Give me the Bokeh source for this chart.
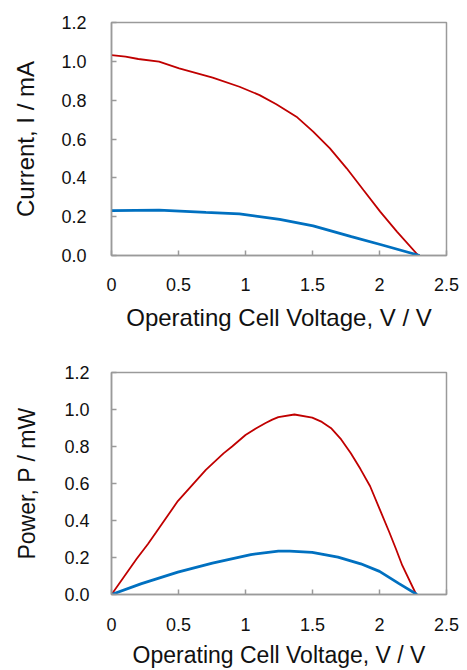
from bokeh.plotting import figure
from bokeh.layouts import column
from bokeh.models import Range1d, FixedTicker
from bokeh.embed import file_html
from bokeh.resources import INLINE

# ---- data ----
iv_red_v = [0, 0.105, 0.2, 0.355, 0.505, 0.755, 0.955, 1.105, 1.23, 1.38, 1.505, 1.63, 1.755, 1.88, 2.005, 2.13, 2.29]
iv_red_i = [1.032, 1.024, 1.012, 0.998, 0.964, 0.916, 0.869, 0.826, 0.779, 0.715, 0.638, 0.552, 0.449, 0.337, 0.226, 0.123, 0.0]
iv_blue_v = [0, 0.355, 0.705, 0.955, 1.255, 1.505, 1.79, 2.02, 2.3]
iv_blue_i = [0.231, 0.234, 0.222, 0.214, 0.186, 0.153, 0.097, 0.054, 0.0]

pv_red_v = [0, 0.188, 0.272, 0.332, 0.495, 0.704, 0.836, 0.9, 1.0, 1.077, 1.15, 1.2, 1.245, 1.365, 1.498, 1.57, 1.642, 1.714, 1.786, 1.858, 1.93, 2.002, 2.074, 2.123, 2.17, 2.274]
pv_red_p = [0, 0.193, 0.273, 0.335, 0.505, 0.674, 0.763, 0.80, 0.862, 0.897, 0.927, 0.945, 0.959, 0.973, 0.956, 0.933, 0.897, 0.838, 0.763, 0.678, 0.585, 0.46, 0.335, 0.246, 0.157, 0.0]
pv_blue_v = [0, 0.224, 0.495, 0.753, 1.04, 1.245, 1.33, 1.498, 1.69, 1.86, 2.0, 2.146, 2.28]
pv_blue_p = [0, 0.059, 0.121, 0.170, 0.216, 0.234, 0.235, 0.228, 0.202, 0.166, 0.125, 0.059, 0.0]

x_ticks = [0, 0.5, 1, 1.5, 2, 2.5]
x_tick_labels = ["0", "0.5", "1", "1.5", "2", "2.5"]
y_ticks = [0, 0.2, 0.4, 0.6, 0.8, 1.0, 1.2]
y_tick_labels = ["0.0", "0.2", "0.4", "0.6", "0.8", "1.0", "1.2"]

x_label = "Operating Cell Voltage, V / V"
y_label_top = "Current, I / mA"
y_label_bottom = "Power, P / mW"

RED = "#c00000"
BLUE = "#0070c0"
GREY = "#9a9a9a"
FONT = "Liberation Sans"


def style(p, ylab, label_size, ylab_standoff, ytick_standoff, xtick_standoff, xlab_standoff):
    p.x_range = Range1d(0, 2.5)
    p.y_range = Range1d(0, 1.2)
    p.xgrid.visible = False
    p.ygrid.visible = False
    p.outline_line_color = GREY
    p.outline_line_width = 1.5
    p.background_fill_color = "white"
    p.border_fill_color = "white"
    for ax in (p.xaxis[0], p.yaxis[0]):
        ax.axis_line_color = GREY
        ax.axis_line_width = 1.5
        ax.major_tick_line_color = GREY
        ax.major_tick_line_width = 1.5
        ax.major_tick_in = 5
        ax.major_tick_out = 0
        ax.minor_tick_line_color = None
        ax.major_label_text_font = FONT
        ax.major_label_text_font_size = "18px"
        ax.major_label_text_color = "#111111"
        ax.axis_label_text_font = FONT
        ax.axis_label_text_font_size = label_size
        ax.axis_label_text_font_style = "normal"
        ax.axis_label_text_color = "#111111"
    p.xaxis[0].ticker = FixedTicker(ticks=x_ticks)
    p.xaxis[0].major_label_overrides = dict(zip(x_ticks, x_tick_labels))
    p.yaxis[0].ticker = FixedTicker(ticks=y_ticks)
    p.yaxis[0].major_label_overrides = dict(zip(y_ticks, y_tick_labels))
    p.xaxis[0].axis_label = x_label
    p.yaxis[0].axis_label = ylab
    p.yaxis[0].major_label_standoff = ytick_standoff
    p.yaxis[0].axis_label_standoff = ylab_standoff
    p.xaxis[0].major_label_standoff = xtick_standoff
    p.xaxis[0].axis_label_standoff = xlab_standoff


top = figure(width=467, height=335, output_backend="svg", toolbar_location=None,
             min_border_left=111, min_border_right=21, min_border_top=22, min_border_bottom=80)
style(top, y_label_top, "24px", 19, 25, 22, 10)
top.line(iv_red_v, iv_red_i, line_color=RED, line_width=1.8)
top.line(iv_blue_v, iv_blue_i, line_color=BLUE, line_width=2.8)

bottom = figure(width=467, height=335, output_backend="svg", toolbar_location=None,
                min_border_left=107, min_border_right=13, min_border_top=37, min_border_bottom=74)
style(bottom, y_label_bottom, "23px", 21, 22, 23, 8)
bottom.line(pv_red_v, pv_red_p, line_color=RED, line_width=1.8)
bottom.line(pv_blue_v, pv_blue_p, line_color=BLUE, line_width=2.8)

layout = column(top, bottom)
open("out.html", "w").write(file_html(layout, INLINE))
